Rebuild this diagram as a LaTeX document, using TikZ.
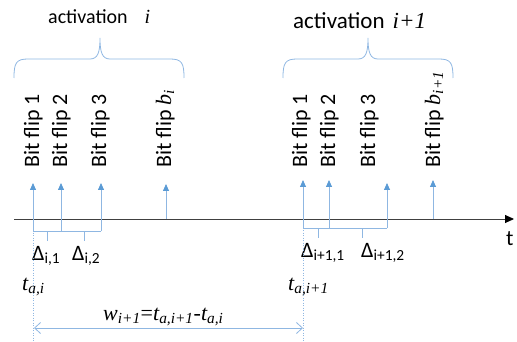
\documentclass[tikz,border=0pt]{standalone}
\usepackage{fontspec}
\setmainfont{Carlito}
\newfontfamily\serif{Liberation Serif}
\usetikzlibrary{arrows.meta}
\definecolor{lineblue}{RGB}{143,183,226}
\definecolor{headblue}{RGB}{91,155,213}
\definecolor{axisgray}{RGB}{64,64,64}
% italic variable with subscript
\newcommand\mv[2]{{\serif\itshape #1\textsubscript{#2}}}
\begin{document}
\begin{tikzpicture}[x=1pt,y=-1pt,
  flip/.style={rotate=90, anchor=base west, inner sep=0pt, font=\fontsize{22}{26}\selectfont},
  hit/.style={draw=lineblue, line width=0.8pt, -{Triangle[length=7pt,width=6pt,color=headblue]}},
  brace/.style={draw=lineblue, line width=0.8pt},
  dotline/.style={draw=lineblue, line width=0.7pt, dash pattern=on 1pt off 1.5pt},
  warrow/.style={draw=lineblue, line width=0.8pt, {Straight Barb[length=6pt,width=11pt]}-{Straight Barb[length=6pt,width=11pt]}},
  delta/.style={anchor=base west, inner sep=0pt, font=\fontsize{22}{26}\selectfont},
  tlab/.style={anchor=base west, inner sep=0pt, font=\fontsize{22}{26}\selectfont},
  actlab/.style={anchor=base west, inner sep=0pt}
]
\useasboundingbox (0,0) rectangle (517,342);

% time axis
\coordinate (ax0) at (14,219);
\coordinate (ax1) at (514,219);
\draw[axisgray, line width=0.9pt, -{Triangle[length=9pt,width=8pt,color=black]}] (ax0) -- (ax1);
\node[tlab] (tt) at (506,245) {t};

% activation labels and braces
\node[actlab, font=\fontsize{20}{24}\selectfont] (act1) at (48,24) {activation\hspace{17pt}{\serif\itshape i}};
\node[actlab, font=\fontsize{23}{27}\selectfont] (act2) at (293,29) {activation\hspace{8pt}{\serif\itshape i+1}};
\draw[brace] (14,78) .. controls (14,63) and (16,59) .. (28,59) -- (90,59)
  .. controls (98,59) and (100,52) .. (100,38)
  .. controls (100,52) and (102,59) .. (110,59) -- (170,59)
  .. controls (182,59) and (184,63) .. (184,78);
\draw[brace] (283,78) .. controls (283,63) and (285,59) .. (297,59) -- (358,59)
  .. controls (366,59) and (368,52) .. (368,38)
  .. controls (368,52) and (370,59) .. (378,59) -- (439,59)
  .. controls (451,59) and (453,63) .. (453,78);

% bit flip labels
\node[flip] (f1) at (39,168) {Bit flip 1};
\node[flip] (f2) at (67,168) {Bit flip 2};
\node[flip] (f3) at (106,168) {Bit flip 3};
\node[flip] (fb) at (171,168) {Bit flip \mv{b}{i}};
\node[flip] (g1) at (307,168) {Bit flip 1};
\node[flip] (g2) at (335,168) {Bit flip 2};
\node[flip] (g3) at (375,168) {Bit flip 3};
\node[flip] (gb) at (440,168) {Bit flip \mv{b}{i+1}};

% bit flip events
\coordinate (p1) at (33,231);  \coordinate (q1) at (33,183);
\coordinate (p2) at (61,231);  \coordinate (q2) at (61,183);
\coordinate (p3) at (101,231); \coordinate (q3) at (101,183);
\coordinate (pb) at (166,219); \coordinate (qb) at (166,184);
\coordinate (r1) at (303,228); \coordinate (s1) at (303,180);
\coordinate (r2) at (329,228); \coordinate (s2) at (329,180);
\coordinate (r3) at (387,228); \coordinate (s3) at (387,183);
\coordinate (rb) at (433,219); \coordinate (sb) at (433,180);
\foreach \a/\b in {p1/q1,p2/q2,p3/q3,pb/qb,r1/s1,r2/s2,r3/s3,rb/sb}
  \draw[hit] (\a) -- (\b);

% gaps between consecutive flips
\draw[brace] (p1) -- (p2) (p2) -- (p3);
\draw[brace] (47,231) -- (47,241) (84,231) -- (84,241);
\draw[brace] (r1) -- (r2) (r2) -- (r3);
\draw[brace] (318,228) -- (318,238) (362,228) -- (362,238);
\node[delta] (d1) at (32,260) {Δ\textsubscript{i,1}};
\node[delta] (d2) at (72,260) {Δ\textsubscript{i,2}};
\node[delta] (d3) at (301,257) {Δ\textsubscript{i+1,1}};
\node[delta] (d4) at (361,257) {Δ\textsubscript{i+1,2}};

% activation start times
\coordinate (u1) at (33,195);  \coordinate (v1) at (33,342);
\coordinate (u2) at (303,195); \coordinate (v2) at (303,342);
\draw[dotline] (u1) -- (v1);
\draw[dotline] (u2) -- (v2);
\node[tlab] (ta) at (22,290) {\mv{t}{a,i}};
\node[tlab] (tb) at (288,290) {\mv{t}{a,i+1}};

% interval between activations
\coordinate (wl) at (34,328);
\coordinate (wr) at (303,328);
\draw[warrow] (wl) -- (wr);
\node[tlab] (w) at (103,320) {\mv{w}{i+1}{\serif=}\mv{t}{a,i+1}{\serif -}\mv{t}{a,i}};
\end{tikzpicture}
\end{document}
